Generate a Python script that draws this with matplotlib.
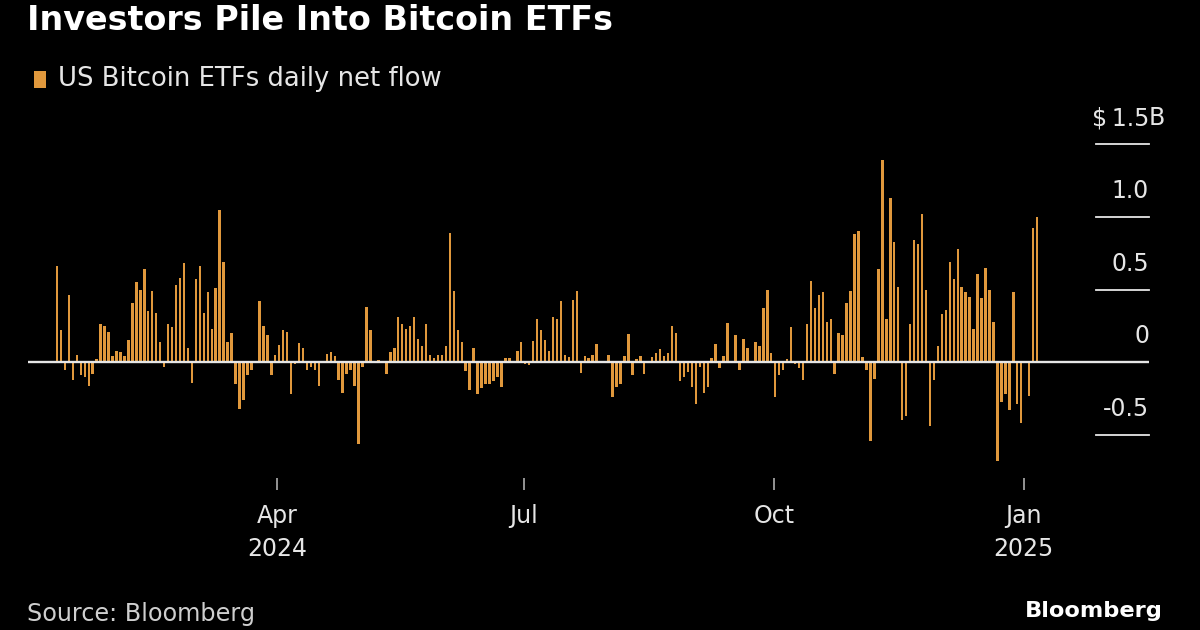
import numpy as np
import pandas as pd
import matplotlib
matplotlib.use("Agg")
import matplotlib.pyplot as plt
from matplotlib import transforms
from matplotlib.patches import Rectangle

# ---------------- data ----------------
start_date = "2024-01-11"
end_date = "2025-01-06"
market_holidays = ["2024-01-15", "2024-02-19", "2024-03-29", "2024-05-27",
                   "2024-06-19", "2024-07-04", "2024-09-02", "2024-11-28",
                   "2024-12-25", "2025-01-01"]

# daily net flow, $ billions (one value per trading day)
net_flow_bn = [
    0.66, 0.22, -0.05, 0.46, -0.12, 0.05, -0.09, -0.10, -0.16, -0.08,
    0.02, 0.26, 0.25, 0.21, 0.04, 0.08, 0.07, 0.04, 0.15, 0.41,
    0.55, 0.50, 0.64, 0.35, 0.49, 0.34, 0.14, -0.03, 0.26, 0.24,
    0.53, 0.58, 0.68, 0.10, -0.14, 0.57, 0.66, 0.34, 0.48, 0.23,
    0.51, 1.05, 0.69, 0.14, 0.20, -0.15, -0.32, -0.26, -0.09, -0.05,
    0.01, 0.42, 0.25, 0.19, -0.085, 0.05, 0.12, 0.22, 0.21, -0.22,
    -0.01, 0.13, 0.10, -0.05, -0.03, -0.055, -0.16, 0.0, 0.06, 0.07,
    0.04, -0.12, -0.21, -0.08, -0.05, -0.16, -0.56, -0.03, 0.38, 0.22,
    0.0, 0.014, 0.0, -0.08, 0.07, 0.10, 0.31, 0.26, 0.23, 0.25,
    0.31, 0.16, 0.11, 0.26, 0.05, 0.03, 0.05, 0.05, 0.11, 0.89,
    0.49, 0.22, 0.14, -0.06, -0.19, 0.10, -0.22, -0.18, -0.15, -0.15,
    -0.13, -0.10, -0.17, 0.03, 0.03, 0.0, 0.08, 0.14, -0.013, -0.02,
    0.145, 0.30, 0.22, 0.15, 0.08, 0.31, 0.30, 0.42, 0.05, 0.036,
    0.43, 0.49, -0.075, 0.045, 0.03, 0.05, 0.125, 0.0, 0.0, 0.05,
    -0.24, -0.17, -0.15, 0.045, 0.195, -0.09, 0.025, 0.04, -0.08, 0.01,
    0.035, 0.065, 0.09, 0.04, 0.065, 0.25, 0.20, -0.126, -0.10, -0.07,
    -0.17, -0.29, -0.03, -0.21, -0.17, 0.03, 0.125, -0.037, 0.04, 0.27,
    0.005, 0.19, -0.05, 0.16, 0.10, 0.0, 0.14, 0.11, 0.37, 0.50,
    0.066, -0.24, -0.09, -0.055, 0.025, 0.24, -0.014, -0.037, -0.12, 0.26,
    0.56, 0.375, 0.465, 0.48, 0.28, 0.30, -0.08, 0.20, 0.19, 0.41,
    0.49, 0.88, 0.90, 0.034, -0.05, -0.54, -0.115, 0.64, 1.39, 0.30,
    1.13, 0.83, 0.52, -0.40, -0.37, 0.26, 0.84, 0.81, 1.02, 0.50,
    -0.435, -0.12, 0.11, 0.33, 0.36, 0.69, 0.57, 0.78, 0.52, 0.48,
    0.45, 0.23, 0.61, 0.44, 0.65, 0.50, 0.28, -0.68, -0.27, -0.22,
    -0.33, 0.48, -0.29, -0.42, 0.0, -0.23, 0.92, 1.00,
]

y_ticks = [-0.5, 0.0, 0.5, 1.0, 1.5]
y_tick_labels = ["-0.5", "0", "0.5", "1.0", "\\$\u20091.5"]
x_tick_dates = ["2024-04-01", "2024-07-01", "2024-10-01", "2025-01-01"]
x_tick_labels = ["Apr\n2024", "Jul", "Oct", "Jan\n2025"]

title = "Investors Pile Into Bitcoin ETFs"
legend_label = "US Bitcoin ETFs daily net flow"
source = "Source: Bloomberg"

# ---------------- style ----------------
BG = "#000000"
BAR = "#E0983C"
TXT = "#E6E6E6"
W, H = 1200, 630

plt.rcParams["font.family"] = ["DejaVu Sans"]

dates = pd.bdate_range(start_date, end_date, freq="C", holidays=market_holidays)
assert len(dates) == len(net_flow_bn)
idx = np.arange(len(dates))

fig = plt.figure(figsize=(W / 100, H / 100), dpi=100, facecolor=BG)

def fx(px):
    return px / W

def fy(py):
    return 1 - py / H

ax_l, ax_r, ax_t, ax_b = 28, 1149, 130, 478
ax = fig.add_axes([fx(ax_l), fy(ax_b), (ax_r - ax_l) / W, (ax_b - ax_t) / H])
ax.set_facecolor(BG)

zero_px, px_per_bn = 362.3, 145.5
first_px, step_px = 57, 3.968
ax.set_ylim(-(ax_b - zero_px) / px_per_bn, (zero_px - ax_t) / px_per_bn)
ax.set_xlim((ax_l - first_px) / step_px, (ax_r - first_px) / step_px)

ax.bar(idx, net_flow_bn, width=0.62, color=BAR, linewidth=0, zorder=2)
ax.axhline(0, color=TXT, lw=1.7, zorder=3)

for s in ax.spines.values():
    s.set_visible(False)

# y ticks: short lines under right-aligned labels
blend = transforms.blended_transform_factory(ax.transAxes, ax.transData)
line_start = (1096 - ax_l) / (ax_r - ax_l)
lab_off = blend + transforms.ScaledTranslation(0, 26 / 100, fig.dpi_scale_trans)
for v, lab in zip(y_ticks, y_tick_labels):
    if v != 0:
        ax.plot([line_start, 1.0], [v, v], transform=blend, color=TXT, lw=1.3,
                clip_on=False, zorder=3)
    ax.text(1.0, v, lab, transform=lab_off, ha="right", va="center",
            fontsize=17, color=TXT)
ax.text(1.0, y_ticks[-1], "B", transform=lab_off, ha="left", va="center",
        fontsize=17, color=TXT)
ax.set_yticks([])

# x ticks: calendar dates placed linearly along the span of trading days
t0, t1 = dates[0], dates[-1]
x_pos = [(pd.Timestamp(d) - t0) / (t1 - t0) * (len(dates) - 1) for d in x_tick_dates]
ax.set_xticks(x_pos)
ax.set_xticklabels(x_tick_labels, fontsize=17, color=TXT)
for t in ax.get_xticklabels():
    t.set_linespacing(1.5)
ax.tick_params(axis="x", direction="out", length=8.5, width=1.1,
               color="#BDBDBD", pad=10)

# titles & legend
fig.text(fx(27), fy(20), title, fontsize=24, fontweight="bold", color="white",
         ha="left", va="center")
fig.patches.append(Rectangle((fx(34), fy(88)), 12 / W, 17 / H,
                             transform=fig.transFigure, color=BAR, lw=0))
fig.text(fx(58), fy(79), legend_label, fontsize=18.6, color=TXT,
         ha="left", va="center")
fig.text(fx(27), fy(614), source, fontsize=17.2, color="#CFCFCF",
         ha="left", va="center")
fig.text(fx(1163), fy(611), "Bloomberg", fontsize=16.2, fontweight="bold",
         color="white", ha="right", va="center")

fig.savefig("out.png", dpi=100, facecolor=BG)
